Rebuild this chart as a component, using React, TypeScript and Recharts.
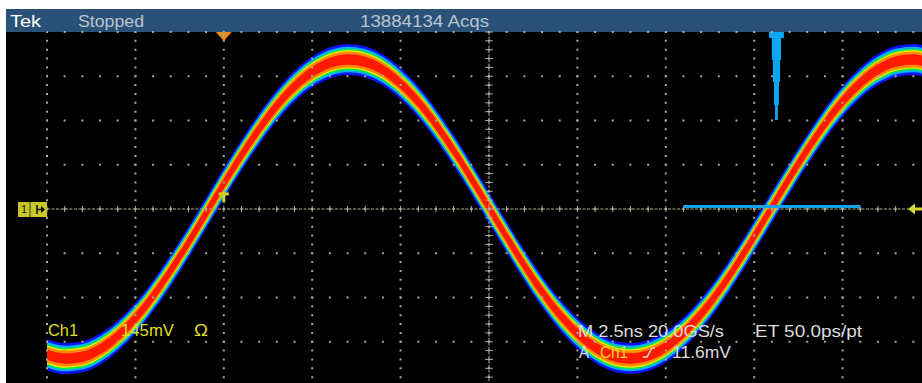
import React from 'react';
import {
  ComposedChart, Area, XAxis, YAxis, ReferenceLine, ReferenceArea, ReferenceDot,
} from 'recharts';

// scope screen: 10 div x 2.5 ns, 8 div x 145 mV
const timeNs = [
  0, 0.5, 1, 1.5, 2, 2.5, 3, 3.5, 4, 4.5, 5, 5.5, 6, 6.5, 7, 7.5, 8, 8.5, 9, 9.5,
  10, 10.5, 11, 11.5, 12, 12.5, 13, 13.5, 14, 14.5, 15, 15.5, 16, 16.5, 17, 17.5, 18, 18.5, 19, 19.5,
  20, 20.5, 21, 21.5, 22, 22.5, 23, 23.5, 24, 24.5, 25,
];
const ch1mV = [
  -477, -490, -484, -459, -416, -358, -285, -201, -110, -14, 83, 176, 262, 339, 402, 449, 479, 490, 482, 456,
  411, 351, 277, 192, 100, 4, -92, -185, -271, -346, -407, -453, -481, -490, -480, -452, -406, -344, -269, -183,
  -90, 6, 102, 194, 279, 353, 413, 457, 483, 490, 478,
];
const xMajor = [0, 2.5, 5, 7.5, 10, 12.5, 15, 17.5, 20, 22.5, 25];
const yMajor = [-580, -435, -290, -145, 0, 145, 290, 435, 580];
const xMinor = Array.from({ length: 51 }, (_, i) => i * 0.5);
const yMinor = Array.from({ length: 41 }, (_, i) => -580 + i * 29);

const triggerTimeNs = 5;
const triggerLevelMv = 11.6;
const histLevelMv = 8;
const histWindowNs = [18, 23];
// time histogram hanging from the top edge
const histRows = [
  { top: 580, bottom: 560, from: 20.42, to: 20.84 },
  { top: 560, bottom: 488, from: 20.5, to: 20.76 },
  { top: 488, bottom: 416, from: 20.53, to: 20.73 },
  { top: 416, bottom: 341, from: 20.56, to: 20.7 },
  { top: 341, bottom: 292, from: 20.59, to: 20.67 },
];

// persistence colours, outside in (half width in mV)
const bands = [
  { half: 51, color: '#0a14f5' },
  { half: 42, color: '#00b0ff' },
  { half: 35, color: '#18e83c' },
  { half: 30, color: '#f2f000' },
  { half: 26, color: '#ff8a00' },
  { half: 17, color: '#ff1a00' },
];

const dotColor = '#a9a792';
const crossColor = '#b0ae98';
const yellow = '#dede22';
const grey = '#dcdcdc';
const font = 'Liberation Sans, Arial, sans-serif';

const Txt = ({ x, y, w, fill, children }: any) => (
  <text x={x} y={y} fill={fill} fontFamily={font} fontSize={17} textLength={w} lengthAdjust="spacingAndGlyphs">
    {children}
  </text>
);

export default function App() {
  const data = timeNs.map((t, i) => ({ t, v: ch1mV[i] }));
  return (
    <div style={{ position: 'fixed', left: 0, top: 0, width: 922, height: 383, background: '#fff', overflow: 'hidden' }}>
      <div style={{ position: 'absolute', left: 6, top: 9, width: 916, height: 23, background: '#2a5279' }} />
      <div style={{ position: 'absolute', left: 6, top: 32, width: 916, height: 351, background: '#000' }} />
      <div style={{ position: 'absolute', left: 0, top: 0 }}>
        <ComposedChart width={940} height={390} data={data} margin={{ top: 32, left: 47, right: 9, bottom: 4 }}>
          <XAxis dataKey="t" type="number" domain={[0, 25]} ticks={xMajor} interval={0} height={0}
            tick={false} axisLine={false} tickLine={false} />
          <YAxis type="number" domain={[-580, 580]} ticks={yMajor} interval={0} width={0}
            tick={false} axisLine={false} tickLine={false} />

          {/* dotted graticule */}
          {yMajor.map((v) => (
            <ReferenceLine key={'gy' + v} y={v} stroke={dotColor} strokeWidth={2}
              strokeDasharray="2 15.68" strokeDashoffset={1} />
          ))}
          {xMajor.map((t) => (
            <ReferenceLine key={'gx' + t} x={t} stroke={dotColor} strokeWidth={2}
              strokeDasharray="2 6.85" strokeDashoffset={1} />
          ))}

          {bands.map((b) => (
            <Area key={b.color} type="monotone" dataKey={(d: any) => [d.v - b.half, d.v + b.half]}
              stroke="none" fill={b.color} fillOpacity={1} dot={false} activeDot={false}
              isAnimationActive={false} />
          ))}

          <ReferenceLine y={0} stroke={crossColor} strokeDasharray="3 1.5" />
          <ReferenceLine x={12.5} stroke={crossColor} strokeDasharray="3 1.5" />
          {xMinor.map((t) => (
            <ReferenceLine key={'xt' + t} segment={[{ x: t, y: -10 }, { x: t, y: 10 }]} stroke={crossColor} />
          ))}
          {yMinor.map((v) => (
            <ReferenceLine key={'yt' + v} segment={[{ x: 12.39, y: v }, { x: 12.61, y: v }]} stroke={crossColor} />
          ))}

          {histRows.map((r, i) => (
            <ReferenceArea key={'h' + i} x1={r.from} x2={r.to} y1={r.bottom} y2={r.top}
              fill="#0aa8f4" fillOpacity={1} stroke="none" ifOverflow="visible" />
          ))}
          <ReferenceLine segment={[{ x: histWindowNs[0], y: histLevelMv }, { x: histWindowNs[1], y: histLevelMv }]}
            stroke="#14a4ee" strokeWidth={3} />

          <ReferenceDot x={triggerTimeNs} y={580} r={1} ifOverflow="visible"
            shape={(p: any) => (
              <g>
                <polygon points={`${p.cx - 8},${p.cy} ${p.cx + 8},${p.cy} ${p.cx},${p.cy + 9}`} fill="#f08a10" />
                <line x1={p.cx} y1={p.cy} x2={p.cx} y2={p.cy + 5} stroke="#40c8f0" strokeWidth={1} />
              </g>
            )} />
          <ReferenceDot x={triggerTimeNs} y={triggerLevelMv} r={1} ifOverflow="visible"
            shape={(p: any) => (
              <g fill="#d4d420">
                <rect x={p.cx - 5} y={p.cy - 13} width={10} height={3} />
                <rect x={p.cx - 1.5} y={p.cy - 13} width={3} height={10} />
              </g>
            )} />

          <XAxis xAxisId="minor" orientation="top" mirror dataKey="t" type="number" domain={[0, 25]}
            ticks={xMinor} interval={0} height={0} tickSize={4} tickFormatter={() => ''}
            axisLine={{ stroke: '#aab88e', strokeWidth: 2 }} tickLine={{ stroke: '#aab88e' }} />
          <YAxis yAxisId="minor" orientation="left" mirror type="number" domain={[-580, 580]}
            ticks={yMinor} interval={0} width={0} tickSize={3} tickFormatter={() => ''}
            axisLine={{ stroke: '#a29f88', strokeWidth: 2 }} tickLine={{ stroke: '#a29f88' }} />
        </ComposedChart>
      </div>
      <svg width={922} height={383} style={{ position: 'absolute', left: 0, top: 0, pointerEvents: 'none' }}>
        <Txt x={10} y={27} w={31} fill="#ffffff">Tek</Txt>
        <Txt x={78} y={27} w={66} fill="#b9c4cf">Stopped</Txt>
        <Txt x={360} y={27} w={129} fill="#b9c4cf">13884134 Acqs</Txt>

        <g>
          <rect x={18} y={202} width={29} height={15} fill="#c8c82a" />
          <text x={21} y={213} fontFamily={font} fontSize={11} fill="#202000">1</text>
          <line x1={30} y1={202} x2={30} y2={217} stroke="#3a3a10" strokeWidth={1} />
          <line x1={37} y1={205} x2={37} y2={214} stroke="#101000" strokeWidth={1.5} />
          <line x1={37} y1={209.5} x2={44} y2={209.5} stroke="#101000" strokeWidth={1.5} />
          <polygon points="45,209.5 41,206 41,213" fill="#101000" />
        </g>
        <g fill="#d8d830">
          <polygon points="908,209 915,203.5 915,214.5" />
          <rect x={914} y={207.5} width={8} height={3} />
        </g>

        <Txt x={48} y={336} w={30} fill={yellow}>Ch1</Txt>
        <Txt x={121} y={336} w={53} fill={yellow}>145mV</Txt>
        <Txt x={194} y={336} w={14} fill={yellow}>Ω</Txt>
        <Txt x={578} y={337} w={146} fill={grey}>M 2.5ns 20.0GS/s</Txt>
        <Txt x={755} y={337} w={107} fill={grey}>ET 50.0ps/pt</Txt>
        <Txt x={579} y={358} w={10} fill={grey}>A</Txt>
        <Txt x={600} y={358} w={28} fill={yellow}>Ch1</Txt>
        <g stroke={grey} strokeWidth={1.5} fill="none">
          <polyline points="643,357 647,357 652,348 655,348" />
        </g>
        <Txt x={672} y={358} w={59} fill={grey}>11.6mV</Txt>
      </svg>
    </div>
  );
}
